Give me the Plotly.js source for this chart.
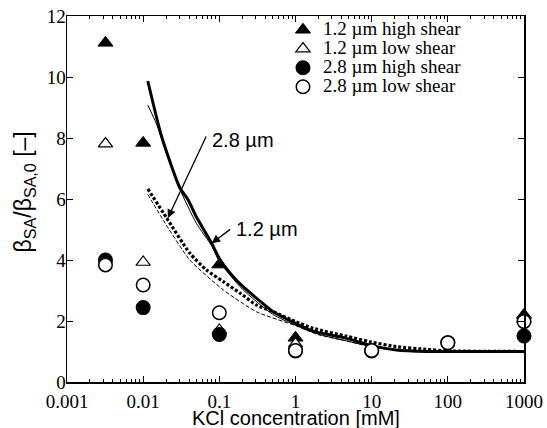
<!DOCTYPE html>
<html>
<head>
<meta charset="utf-8">
<script src="https://cdn.plot.ly/plotly-3.0.1.min.js"></script>
<style>
  html, body { margin: 0; padding: 0; background: #fff; }
  #chart { width: 547px; height: 428px; }
</style>
</head>
<body>
<div id="chart"></div>
<script>
// KCl concentration of the measured points [mM]
const kcl = [0.0032, 0.01, 0.1, 1, 10, 100, 1000];

// Measured beta_SA / beta_SA,0
const d12High = [11.12, 7.84, 3.85, 1.45, null, null, 2.2];
const d12Low  = [7.81, 3.93, 1.7, 1.25, null, null, 2.05];
const d28High = [4.0, 2.44, 1.56, 1.02, 1.02, 1.29, 1.51];
const d28Low  = [3.84, 3.18, 2.27, 1.03, 1.03, 1.29, 1.98];

const seriesNames = ['1.2 µm high shear', '1.2 µm low shear', '2.8 µm high shear', '2.8 µm low shear'];

// Model curves
const m12HighX = [0.0115, 0.0175, 0.0304, 0.039, 0.0503, 0.0793, 0.1, 0.152, 0.2, 0.418, 0.509, 1, 1.55, 2, 4.68, 9.46, 21, 52, 100, 1000];
const m12HighY = [9.87, 8.04, 6.36, 5.97, 5.4, 4.55, 4.05, 3.45, 3.15, 2.47, 2.30, 1.92, 1.70, 1.62, 1.43, 1.21, 1.05, 1.0, 1.0, 1.0];

const m12LowX = [0.0115, 0.015, 0.02, 0.03, 0.05, 0.08, 0.1, 0.2, 0.5, 1, 2, 5, 10, 20, 50, 100, 1000];
const m12LowY = [9.08, 8.45, 7.55, 6.35, 5.2, 4.45, 3.95, 3.05, 2.22, 1.86, 1.57, 1.33, 1.16, 1.05, 1.0, 1.0, 1.0];

const m28HighX = [0.0115, 0.0203, 0.0411, 0.068, 0.1127, 0.186, 0.309, 0.505, 1, 1.71, 4.68, 9.46, 21, 52, 100, 1000];
const m28HighY = [6.33, 5.38, 4.22, 3.67, 3.29, 2.92, 2.52, 2.31, 1.98, 1.76, 1.50, 1.32, 1.16, 1.07, 1.02, 1.0];

const m28LowX = [0.0115, 0.0195, 0.041, 0.1127, 0.309, 1, 2, 5, 10, 20, 100, 1000];
const m28LowY = [6.15, 5.2, 4.0, 3.02, 2.30, 1.85, 1.55, 1.33, 1.15, 1.05, 1.0, 1.0];

// Axis ticks
const xTickVals = [0.001, 0.01, 0.1, 1, 10, 100, 1000];
const xTickText = ['0.001', '0.01', '0.1', '1', '10', '100', '1000'];
const yTickVals = [0, 2, 4, 6, 8, 10, 12];

const serif = 'Liberation Serif, Times New Roman, serif';
const sans = 'Liberation Sans, Arial, sans-serif';

function modelLine(x, y, width, dash) {
  return {
    x: x, y: y, type: 'scatter', mode: 'lines', showlegend: false, hoverinfo: 'skip',
    line: { color: 'black', width: width, dash: dash, shape: 'spline', smoothing: 0.6 }
  };
}

function points(y, name, symbol, fill, size, lw) {
  return {
    x: kcl, y: y, type: 'scatter', mode: 'markers', cliponaxis: false,
    name: '<span style="font-size:19px">' + name + '</span>',
    marker: { symbol: symbol, size: size, color: fill, line: { color: 'black', width: lw } }
  };
}

const traces = [
  modelLine(m12LowX, m12LowY, 1, 'solid'),
  modelLine(m28LowX, m28LowY, 1, '4px,2px'),
  modelLine(m28HighX, m28HighY, 3.2, '3px,2px'),
  modelLine(m12HighX, m12HighY, 3, 'solid'),
  points(d12High, seriesNames[0], 'triangle-up', 'black', 13, 1),
  points(d12Low, seriesNames[1], 'triangle-up', 'white', 12.5, 1.2),
  points(d28High, seriesNames[2], 'circle', 'black', 13.5, 1.5),
  points(d28Low, seriesNames[3], 'circle', 'white', 13.5, 1.5)
];

const arrowStyle = { showarrow: true, arrowhead: 2, arrowsize: 1.3, arrowwidth: 1.3, arrowcolor: 'black', text: '' };

const layout = {
  width: 547, height: 428,
  margin: { l: 67, r: 23, t: 16, b: 46 },
  paper_bgcolor: 'white', plot_bgcolor: 'white',
  showlegend: true,
  legend: {
    x: 0.4726, xanchor: 'left', y: 1.002, yanchor: 'top',
    bgcolor: 'rgba(0,0,0,0)', borderwidth: 0,
    font: { family: serif, size: 12.3, color: 'black' }
  },
  xaxis: {
    type: 'log', range: [-3, 3],
    tickvals: xTickVals, ticktext: xTickText,
    ticks: 'inside', ticklen: 6, tickwidth: 1, tickcolor: 'black',
    minor: { ticks: 'inside', ticklen: 3, tickwidth: 1, tickcolor: 'black', dtick: 'D1' },
    showline: true, linecolor: 'black', linewidth: 1.5, mirror: 'allticks',
    showgrid: false, zeroline: false, ticklabelstandoff: 2,
    tickfont: { family: serif, size: 19, color: 'black' }
  },
  yaxis: {
    range: [0, 12],
    tickvals: yTickVals,
    ticks: 'inside', ticklen: 6, tickwidth: 1, tickcolor: 'black',
    showline: true, linecolor: 'black', linewidth: 1.5, mirror: 'allticks',
    showgrid: false, zeroline: false, ticklabelstandoff: -4,
    tickfont: { family: serif, size: 19, color: 'black' }
  },
  annotations: [
    // axis titles
    { xref: 'paper', yref: 'paper', x: 0.5, y: -0.097, xanchor: 'center', yanchor: 'middle',
      showarrow: false, text: 'KCl concentration [mM]', font: { family: sans, size: 20, color: 'black' } },
    { xref: 'paper', yref: 'paper', x: -0.092, y: 0.5205, xanchor: 'center', yanchor: 'middle',
      textangle: -90, showarrow: false,
      text: 'β<sub>SA</sub>/β<sub>SA,0</sub> [–]', font: { family: sans, size: 23, color: 'black' } },
    // curve labels with arrows
    Object.assign({ xref: 'x', yref: 'y', x: Math.log10(0.0211), y: 5.38, ax: 39, ay: -83 }, arrowStyle),
    Object.assign({ xref: 'x', yref: 'y', x: Math.log10(0.0793), y: 4.55, ax: 20, ay: -15 }, arrowStyle),
    { xref: 'x', yref: 'y', x: Math.log10(0.0755), y: 7.93, xanchor: 'left', yanchor: 'middle',
      text: '2.8 µm', showarrow: false, font: { family: sans, size: 20, color: 'black' } },
    { xref: 'x', yref: 'y', x: Math.log10(0.158), y: 5.02, xanchor: 'left', yanchor: 'middle',
      text: '1.2 µm', showarrow: false, font: { family: sans, size: 20, color: 'black' } }
  ]
};

Plotly.newPlot('chart', traces, layout, { staticPlot: true, displayModeBar: false });
</script>
</body>
</html>
